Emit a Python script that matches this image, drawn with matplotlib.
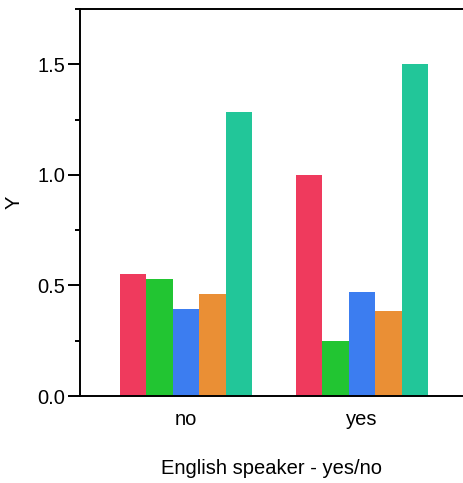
import matplotlib
matplotlib.use("Agg")
import matplotlib.pyplot as plt
import numpy as np
from matplotlib.ticker import MultipleLocator

categories = ["no", "yes"]
series_names = ["s1", "s2", "s3", "s4", "s5"]
s1 = [0.553, 1.001]
s2 = [0.530, 0.249]
s3 = [0.394, 0.471]
s4 = [0.462, 0.385]
s5 = [1.282, 1.500]
series = [s1, s2, s3, s4, s5]
colors = ["#EF3A5D", "#22C532", "#3C7DF0", "#EA8F35", "#22C699"]

plt.rcParams['font.family'] = ['Liberation Sans', 'DejaVu Sans']

fig = plt.figure(figsize=(4.64, 4.83), dpi=100)
ax = fig.add_axes([80/464, 1-396/483, 383/464, 387/483])

x = np.arange(len(categories))
w = 0.15
for i, (vals, c) in enumerate(zip(series, colors)):
    ax.bar(x + (i - 2) * w, vals, width=w, color=c, linewidth=0)

ax.set_xlim(-0.602, 1.574)
ax.set_ylim(0, 1.75)
ax.set_xticks(x)
ax.set_xticklabels(categories)
ax.yaxis.set_major_locator(MultipleLocator(0.5))
ax.yaxis.set_minor_locator(MultipleLocator(0.25))
ax.yaxis.set_major_formatter(matplotlib.ticker.FormatStrFormatter('%.1f'))
ax.tick_params(axis='y', which='major', length=8.6, width=1.4, labelsize=14.5, pad=2, colors='black')
ax.tick_params(axis='y', which='minor', length=3.6, width=1.4)
ax.tick_params(axis='x', length=0, labelsize=14.5, pad=10)
for s in ['left', 'top', 'bottom']:
    ax.spines[s].set_linewidth(1.4)
ax.spines['right'].set_visible(False)

ax.set_xlabel("English speaker - yes/no", fontsize=14.5, labelpad=22)
ax.set_ylabel("Y", fontsize=14.5, labelpad=10)

fig.savefig("out.png", dpi=100)
